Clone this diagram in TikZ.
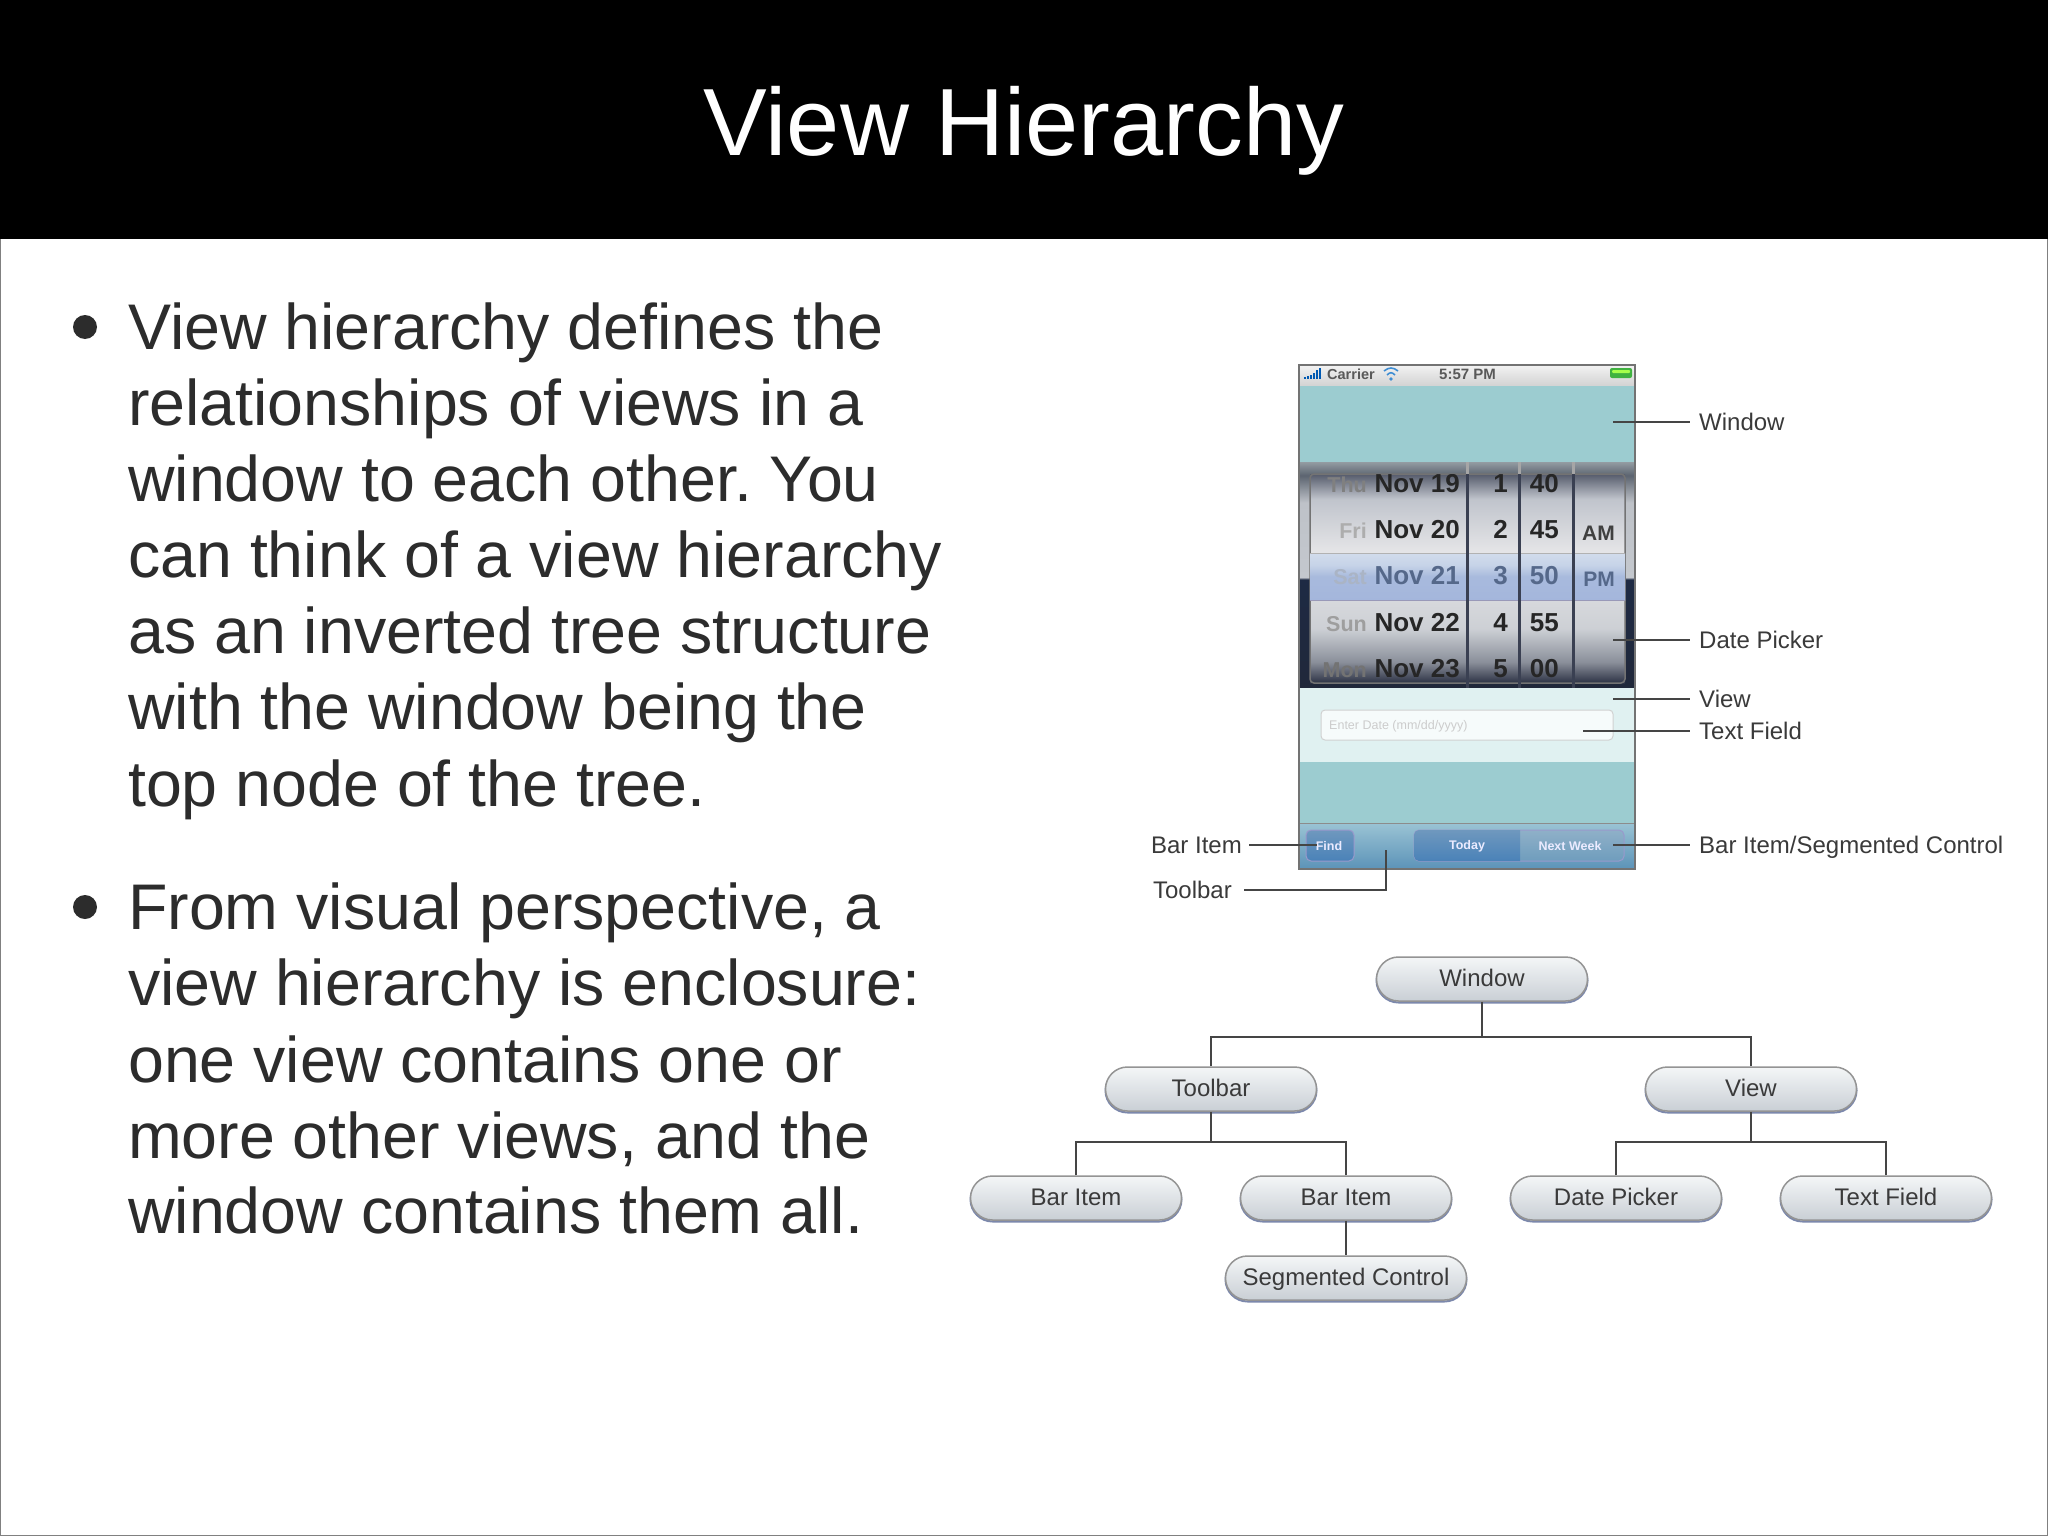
\documentclass[tikz,border=0pt]{standalone}
\usepackage{fontspec}
\setmainfont{Liberation Sans}
\frenchspacing
\definecolor{phoneteal}{HTML}{9CCCD0}
\definecolor{paleview}{HTML}{E0F1F1}
\definecolor{ink}{HTML}{2C2C2C}
\definecolor{lbl}{HTML}{3A3A3A}
\definecolor{linec}{HTML}{454545}
\definecolor{divc}{HTML}{3A4052}
\definecolor{slate}{HTML}{55688A}
\definecolor{wa}{HTML}{2C3244}
\definecolor{wb}{HTML}{8A8F9A}
\definecolor{wc}{HTML}{CDD0D5}
\definecolor{wd}{HTML}{E6E6E8}
\definecolor{we}{HTML}{C0C4CC}
\definecolor{wf}{HTML}{555B6B}
\definecolor{oa}{HTML}{20283A}
\definecolor{ob}{HTML}{1E2A44}
\definecolor{oc}{HTML}{C4C8CE}
\definecolor{od}{HTML}{BEC2C8}
\definecolor{oe}{HTML}{5C6470}
\definecolor{of}{HTML}{939CA2}
\definecolor{ba}{HTML}{A4B6DC}
\definecolor{bb}{HTML}{A8BADD}
\definecolor{bc}{HTML}{C6D3E8}
\definecolor{bd}{HTML}{D2DCEC}
\definecolor{tbtop}{HTML}{9AC3D4}
\definecolor{tbbot}{HTML}{5C93B8}
\definecolor{btntop}{HTML}{6F98BE}
\definecolor{btnbot}{HTML}{4A82B8}
\definecolor{nexttop}{HTML}{8FB0C8}
\definecolor{nextbot}{HTML}{6F9DBD}
\definecolor{pilltop}{HTML}{F4F6F7}
\definecolor{pillbot}{HTML}{C9CFD5}
\definecolor{pillshadow}{HTML}{7C88AC}
\pgfdeclareverticalshading{wheelshade}{100bp}{
 color(0bp)=(wa); color(25bp)=(wa);
 color(30bp)=(wb); color(38bp)=(wc); color(56bp)=(wd);
 color(69bp)=(we); color(75bp)=(wf); color(100bp)=(wf)}
\pgfdeclareverticalshading{outershade}{100bp}{
 color(0bp)=(oa); color(25bp)=(oa);
 color(49bp)=(ob); color(49.5bp)=(oc);
 color(66bp)=(od); color(72bp)=(oe); color(75bp)=(of); color(100bp)=(of)}
\pgfdeclareverticalshading{bandshade}{100bp}{
 color(0bp)=(ba); color(25bp)=(ba);
 color(50bp)=(bb); color(62bp)=(bc); color(75bp)=(bd); color(100bp)=(bd)}
\tikzset{
 bodyline/.style={anchor=base west,inner sep=0pt,text=ink,font=\fontsize{64.5}{64.5}\selectfont},
 bulletdot/.style={circle,fill=ink,inner sep=0pt,minimum size=24pt},
 callout/.style={anchor=west,inner xsep=9pt,inner ysep=0pt,text height=17pt,text depth=0pt,text=lbl,font=\fontsize{24}{24}\selectfont},
 calloutr/.style={callout,anchor=east},
 lead/.style={draw=linec,line width=2.8pt},
 pill/.style={rectangle,rounded corners=22pt,draw=black!42,line width=1.5pt,
   top color=pilltop,bottom color=pillbot,
   preaction={draw=pillshadow,line width=2pt,transform canvas={yshift=-1.5pt}},
   minimum height=44pt,inner sep=0pt,text height=17pt,text depth=2pt,text=lbl,font=\fontsize{24}{24}\selectfont},
 tree/.style={draw=linec,line width=2.8pt},
 rowdate/.style={anchor=base east,inner sep=0pt,font=\bfseries\fontsize{26}{26}\selectfont,text=black!85},
 rowday/.style={anchor=base east,inner sep=0pt,font=\bfseries\fontsize{21.5}{21.5}\selectfont},
 rowampm/.style={anchor=base east,inner sep=0pt,font=\bfseries\fontsize{21}{21}\selectfont,text=black!75},
 barlabel/.style={inner sep=0pt,text=white!92!blue,font=\bfseries\fontsize{12.5}{12.5}\selectfont},
}
\begin{document}
\begin{tikzpicture}[x=1pt,y=-1pt]
\useasboundingbox (0,0) rectangle (2048,1536);
\fill[white] (0,0) rectangle (2048,1536);
\draw[black!50,line width=2pt] (0,0) rectangle (2048,1536);
\fill[black] (0,0) rectangle (2048,239);
\node[anchor=base,inner sep=0pt,text=white,font=\fontsize{95.5}{95.5}\selectfont] (title) at (1024,156) {View Hierarchy};
% bullets
\node[bulletdot] (b1) at (85,327) {};
\node[bulletdot] (b2) at (85,907) {};
\node[bodyline] (t1) at (128,349) {View hierarchy defines the};
\node[bodyline] (t2) at (128,425) {relationships of views in a};
\node[bodyline] (t3) at (128,501) {window to each other. You};
\node[bodyline] (t4) at (128,577) {can think of a view hierarchy};
\node[bodyline] (t5) at (128,653) {as an inverted tree structure};
\node[bodyline] (t6) at (128,729) {with the window being the};
\node[bodyline] (t7) at (128,806) {top node of the tree.};
\node[bodyline] (t8) at (128,929) {From visual perspective, a};
\node[bodyline] (t9) at (128,1005) {view hierarchy is enclosure:};
\node[bodyline] (t10) at (128,1082) {one view contains one or};
\node[bodyline] (t11) at (128,1158) {more other views, and the};
\node[bodyline] (t12) at (128,1233) {window contains them all.};
% phone
\fill[phoneteal] (1299,385) rectangle (1635,869);
\shade[top color=black!5,bottom color=black!17] (1299,365) rectangle (1635,385);
\node[anchor=base west,inner sep=0pt,text=black!65,font=\bfseries\fontsize{14.5}{14.5}\selectfont] (carrier) at (1327,379) {Carrier};
\node[anchor=base west,inner sep=0pt,text=black!65,font=\bfseries\fontsize{15}{15}\selectfont] (clock) at (1439,379) {5:57 PM};
\foreach \i/\h in {0/2,1/3,2/4,3/6,4/9,5/11}
  \fill[blue!50!cyan!70!black] ({1304+\i*3},379) rectangle ++(2,-\h);
\begin{scope}[line width=1.6pt,draw=cyan!60!blue!80]
\draw (1384,371) .. controls (1389,367) and (1393,367) .. (1398,371);
\draw (1387,375) .. controls (1390,372) and (1392,372) .. (1395,375);
\end{scope}
\fill[cyan!60!blue!80] (1391,379) circle (1.8);
\fill[green!60!black!75,rounded corners=2pt] (1610,368) rectangle (1632,378);
\fill[green!50!yellow!70,rounded corners=1pt] (1612,370) rectangle (1630,373);
% picker
\shade[shading=outershade] (1299,462) rectangle (1635,688);
\shade[shading=wheelshade] (1310,474) rectangle (1625,683);
\draw[black!55,line width=1.5pt,rounded corners=4pt] (1310,474) rectangle (1625,683);
\shade[shading=bandshade] (1310,553) rectangle (1625,600);
\draw[black!30,line width=1pt] (1310,553) -- (1625,553);
\draw[blue!30!black!40,line width=1pt] (1310,600) -- (1625,600);
\begin{scope}
\clip (1310,474) rectangle (1625,683);
\node[rowdate] (d1) at (1460,492) {Nov 19};
\node[rowdate] (d2) at (1460,538) {Nov 20};
\node[rowdate,text=slate] (d3) at (1460,584) {Nov 21};
\node[rowdate] (d4) at (1460,631) {Nov 22};
\node[rowdate] (d5) at (1460,677) {Nov 23};
\node[rowday,text=black!50] (w1) at (1367,492) {Thu};
\node[rowday,text=black!32] (w2) at (1367,538) {Fri};
\node[rowday,text=slate!50] (w3) at (1367,584) {Sat};
\node[rowday,text=black!38] (w4) at (1367,631) {Sun};
\node[rowday,text=black!55] (w5) at (1367,677) {Mon};
\node[rowdate] (h1) at (1508,492) {1};
\node[rowdate] (h2) at (1508,538) {2};
\node[rowdate,text=slate] (h3) at (1508,584) {3};
\node[rowdate] (h4) at (1508,631) {4};
\node[rowdate] (h5) at (1508,677) {5};
\node[rowdate] (m1) at (1559,492) {40};
\node[rowdate] (m2) at (1559,538) {45};
\node[rowdate,text=slate] (m3) at (1559,584) {50};
\node[rowdate] (m4) at (1559,631) {55};
\node[rowdate] (m5) at (1559,677) {00};
\node[rowampm] (am) at (1615,540) {AM};
\node[rowampm,text=slate] (pm) at (1615,586) {PM};
\end{scope}
\foreach \x in {1467,1519,1573} {
  \draw[black!35,line width=3pt] (\x,462) -- (\x,474);
  \draw[divc,line width=3pt] (\x,474) -- (\x,688);
}
% view & text field
\fill[paleview] (1299,688) rectangle (1635,762);
\draw[draw=black!18,fill=white!70!paleview,rounded corners=4pt,line width=1pt] (1321,710) rectangle (1613,740);
\node[anchor=west,inner sep=0pt,text=black!20,font=\fontsize{12.5}{12.5}\selectfont] (hint) at (1329,726) {Enter Date (mm/dd/yyyy)};
% toolbar
\shade[top color=tbtop,bottom color=tbbot] (1299,823) rectangle (1635,869);
\draw[black!45,line width=1pt] (1299,823) -- (1635,823);
\draw[draw=blue!50!black!40,top color=btntop,bottom color=btnbot,rounded corners=5pt,line width=1pt] (1306,830) rectangle (1354,861);
\draw[draw=blue!50!black!40,top color=nexttop,bottom color=nextbot,rounded corners=5pt,line width=1pt] (1414,830) rectangle (1624,861);
\begin{scope}
\clip[rounded corners=5pt] (1414,830) rectangle (1624,861);
\shade[top color=btntop,bottom color=btnbot] (1414,830) rectangle (1520,861);
\end{scope}
\node[barlabel] (find) at (1329,846) {Find};
\node[barlabel] (today) at (1467,846) {Today};
\node[barlabel] (next) at (1570,846) {Next Week};
\draw[black!55,line width=2.5pt] (1299,365) rectangle (1635,869);
% callouts
\node[callout] (lw) at (1690,422) {Window};
\node[callout] (ld) at (1690,640) {Date Picker};
\node[callout] (lv) at (1690,699) {View};
\node[callout] (lt) at (1690,731) {Text Field};
\node[callout] (ls) at (1690,845) {Bar Item/Segmented Control};
\node[calloutr,inner xsep=7pt] (li) at (1249,845) {Bar Item};
\node[calloutr,inner xsep=12pt] (lb) at (1244,890) {Toolbar};
\coordinate (cw) at (1613,422);
\coordinate (cd) at (1613,640);
\coordinate (cv) at (1613,699);
\coordinate (ct) at (1583,731);
\coordinate (cs) at (1613,845);
\coordinate (ci) at (1317,845);
\coordinate (cb) at (1386,850);
\draw[lead] (cw) -- (lw.west);
\draw[lead] (cd) -- (ld.west);
\draw[lead] (cv) -- (lv.west);
\draw[lead] (ct) -- (lt.west);
\draw[lead] (cs) -- (ls.west);
\draw[lead] (li.east) -- (ci);
\draw[lead] (lb.east) -| (cb);
% tree
\node[pill,minimum width=211pt] (nwin) at (1482,979) {Window};
\node[pill,minimum width=211pt] (ntool) at (1211,1089) {Toolbar};
\node[pill,minimum width=211pt] (nview) at (1751,1089) {View};
\node[pill,minimum width=211pt] (nbar1) at (1076,1198) {Bar Item};
\node[pill,minimum width=211pt] (nbar2) at (1346,1198) {Bar Item};
\node[pill,minimum width=211pt] (ndate) at (1616,1198) {Date Picker};
\node[pill,minimum width=211pt] (ntext) at (1886,1198) {Text Field};
\node[pill,minimum width=241pt] (nseg) at (1346,1278) {Segmented Control};
\coordinate (bw) at (1482,1037);
\coordinate (bt) at (1211,1142);
\coordinate (bv) at (1751,1142);
\draw[tree] (nwin.south) -- (bw);
\draw[tree] (ntool.north) |- (bw);
\draw[tree] (nview.north) |- (bw);
\draw[tree] (ntool.south) -- (bt);
\draw[tree] (nbar1.north) |- (bt);
\draw[tree] (nbar2.north) |- (bt);
\draw[tree] (nview.south) -- (bv);
\draw[tree] (ndate.north) |- (bv);
\draw[tree] (ntext.north) |- (bv);
\draw[tree] (nbar2.south) -- (nseg.north);
\end{tikzpicture}
\end{document}
